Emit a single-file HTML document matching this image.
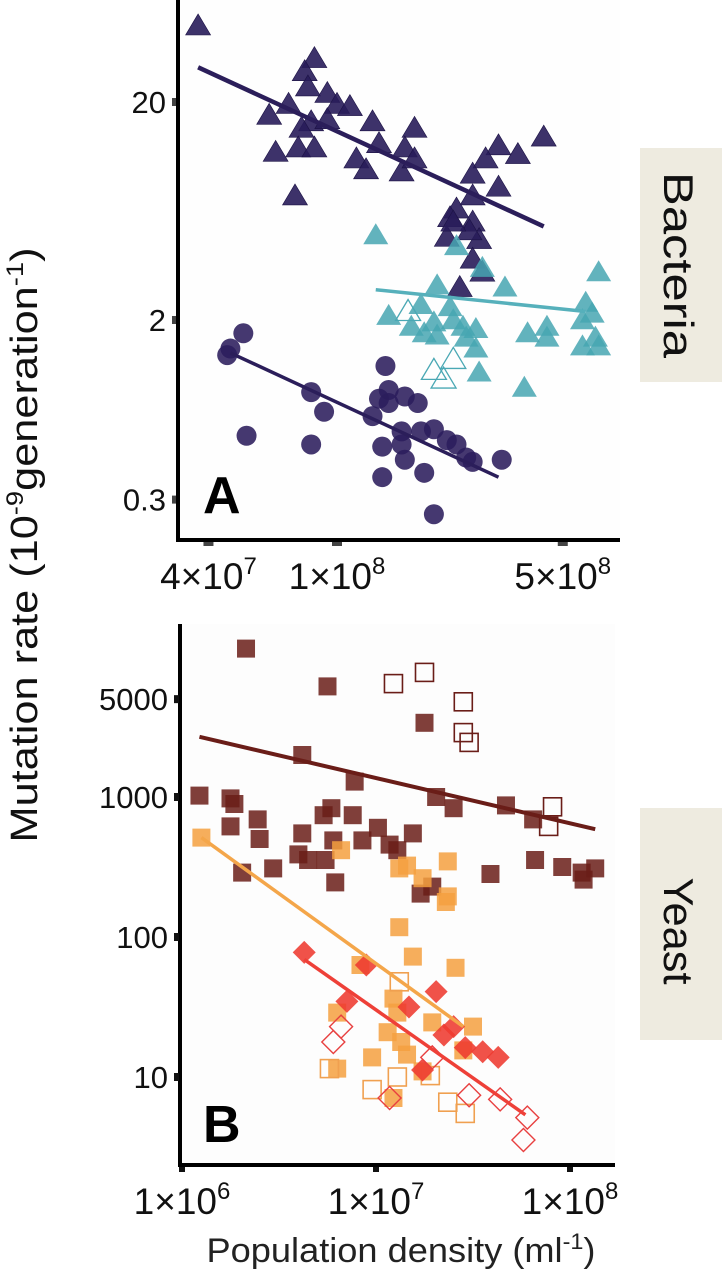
<!DOCTYPE html>
<html><head><meta charset="utf-8"><style>
html,body{margin:0;padding:0;background:#fff;}
svg{display:block;font-family:"Liberation Sans",sans-serif;}
</style></head><body>
<svg id="chart" width="722" height="1279" viewBox="0 0 722 1279" xmlns="http://www.w3.org/2000/svg">
<rect x="0" y="0" width="722" height="1279" fill="#fff"/>
<rect x="640" y="148" width="82" height="234" fill="#eeebe0"/>
<text transform="translate(664,265) rotate(90)" text-anchor="middle" font-size="42" textLength="186" lengthAdjust="spacingAndGlyphs" fill="#111">Bacteria</text>
<rect x="640" y="808" width="82" height="232" fill="#eeebe0"/>
<text transform="translate(664,931) rotate(90)" text-anchor="middle" font-size="42" textLength="107" lengthAdjust="spacingAndGlyphs" fill="#111">Yeast</text>
<text transform="translate(37,545) rotate(-90)" text-anchor="middle" font-size="38" textLength="595" lengthAdjust="spacingAndGlyphs" fill="#111">Mutation rate (10<tspan font-size="24" dy="-14">-9</tspan><tspan dy="14">generation</tspan><tspan font-size="24" dy="-14">-1</tspan><tspan dy="14">)</tspan></text>
<text x="401" y="1262" text-anchor="middle" font-size="34" textLength="389" lengthAdjust="spacingAndGlyphs" fill="#222">Population density (ml<tspan font-size="22" dy="-13">-1</tspan><tspan dy="13">)</tspan></text>
<g id="panelA"></g>
<g id="panelB"></g>
</svg>
<script>
// Panel A (bacteria) data: log10 density, log10 mutation rate
const aTriDarkX=[7.57,7.93,7.90,7.91,7.97,8.00,8.04,7.85,7.79,7.92,7.97,7.89,8.11,8.24,8.13,8.21,7.88,7.93,7.81,8.06,8.09,8.20,8.24,8.50,8.56,8.46,8.64,8.42,8.50,7.87,8.42,8.37,8.35,8.42,8.34,8.44,8.41,8.42,8.38,8.45,8.36];
const aTriDarkY=[1.65,1.50,1.44,1.37,1.34,1.29,1.28,1.29,1.24,1.21,1.22,1.18,1.21,1.18,1.11,1.09,1.09,1.09,1.07,1.04,0.99,0.98,1.04,1.10,1.06,1.04,1.14,0.97,0.91,0.87,0.87,0.81,0.77,0.75,0.68,0.67,0.71,0.58,0.45,0.52,0.75];
const aTriTealX=[8.12,8.37,8.31,8.52,8.81,8.45,8.16,8.26,8.35,8.23,8.30,8.27,8.31,8.36,8.39,8.43,8.40,8.43,8.44,8.58,8.59,8.65,8.65,8.77,8.79,8.76,8.80,8.76,8.81];
const aTriTealY=[0.69,0.64,0.46,0.45,0.52,0.54,0.32,0.37,0.36,0.27,0.29,0.24,0.23,0.30,0.27,0.26,0.22,0.17,0.06,-0.01,0.24,0.27,0.22,0.38,0.33,0.30,0.22,0.18,0.18];
const aTriTealOpenX=[8.22,8.30,8.36,8.33];
const aTriTealOpenY=[0.34,0.07,0.12,0.03];
const aCircX=[7.71,7.67,7.66,7.72,7.92,7.96,7.92,8.15,8.16,8.13,8.16,8.21,8.25,8.11,8.20,8.26,8.30,8.34,8.37,8.20,8.14,8.21,8.40,8.42,8.51,8.14,8.27,8.30];
const aCircY=[0.24,0.17,0.14,-0.23,-0.03,-0.12,-0.27,0.09,-0.02,-0.06,-0.08,-0.05,-0.08,-0.14,-0.21,-0.21,-0.20,-0.25,-0.27,-0.27,-0.28,-0.34,-0.33,-0.35,-0.34,-0.42,-0.40,-0.59];
const aFitDark=[7.57,1.46,8.64,0.73];
const aFitTeal=[8.12,0.44,8.77,0.34];
const aFitCirc=[7.67,0.15,8.50,-0.42];
const aXTicks=[4e7,1e8,5e8];
const aXTickLabels=[["4×10","7"],["1×10","8"],["5×10","8"]];
const aYTicks=[20,2,0.3];
const aYTickLabels=["20","2","0.3"];
// Panel B (yeast) data
const bSqBrownX=[6.33,6.75,7.25,6.62,6.89,7.31,7.40,7.67,7.81,6.09,6.25,6.27,6.39,6.25,6.40,6.62,6.77,6.73,6.88,7.01,7.19,6.78,6.93,7.07,7.11,6.60,6.65,6.74,6.31,6.47,6.79,7.59,7.82,7.96,8.06,8.13,8.07,7.29,7.23];
const bSqBrownY=[4.06,3.79,3.53,3.30,3.11,3.00,2.92,2.94,2.84,3.01,2.99,2.95,2.84,2.79,2.70,2.74,2.92,2.87,2.87,2.78,2.74,2.69,2.69,2.66,2.62,2.59,2.55,2.55,2.46,2.49,2.39,2.45,2.55,2.50,2.46,2.49,2.41,2.36,2.31];
const bSqBrownOpenX=[7.09,7.25,7.45,7.45,7.48,7.91,7.89];
const bSqBrownOpenY=[3.81,3.89,3.68,3.46,3.39,2.93,2.79];
const bSqOrangeX=[6.10,6.82,7.12,7.16,7.37,7.24,7.37,7.36,7.12,7.19,7.41,6.92,7.09,7.11,6.80,7.06,7.13,7.29,7.50,7.45,7.16,6.98,7.24,6.80,7.09];
const bSqOrangeY=[2.71,2.62,2.49,2.51,2.54,2.42,2.29,2.25,2.07,1.86,1.78,1.80,1.56,1.46,1.46,1.32,1.25,1.39,1.36,1.19,1.16,1.14,1.04,1.06,0.85];
const bSqOrangeOpenX=[7.12,6.76,7.11,6.98,7.37,7.46,7.28];
const bSqOrangeOpenY=[1.68,1.06,1.00,0.91,0.82,0.74,1.01];
const bDiaRedX=[6.63,6.95,6.85,7.17,7.31,7.40,7.35,7.55,7.63,7.24,7.46];
const bDiaRedY=[1.89,1.80,1.54,1.50,1.61,1.36,1.30,1.18,1.14,1.05,1.21];
const bDiaRedOpenX=[6.82,6.78,7.07,7.48,7.64,7.78,7.76,7.29];
const bDiaRedOpenY=[1.36,1.25,0.85,0.87,0.84,0.71,0.55,1.14];
const bFitBrown=[6.09,3.43,8.13,2.77];
const bFitOrange=[6.10,2.71,7.45,1.36];
const bFitRed=[6.63,1.84,7.77,0.73];
const bXTicks=[1e6,1e7,1e8];
const bXTickLabels=[["1×10","6"],["1×10","7"],["1×10","8"]];
const bYTicks=[5000,1000,100,10];
const bYTickLabels=["5000","1000","100","10"];

const NS="http://www.w3.org/2000/svg";
function mk(parent,tag,attrs){const e=document.createElementNS(NS,tag);for(const k in attrs)e.setAttribute(k,attrs[k]);parent.appendChild(e);return e;}
const xA=L=>337+(L-8)*323, yA=L=>320-(L-0.301)*218;
const xB=L=>182+(L-6)*194, yB=L=>1077-(L-1)*140;

function tri(g,x,y,fill,stroke,name){
  const s=12.5;
  const p=mk(g,'polygon',{points:`${x},${y-12} ${x-s},${y+9} ${x+s},${y+9}`,fill:fill,stroke:stroke,'stroke-width':fill==='none'?1.3:0.6});
  
  
}
function circ(g,x,y,name){
  const c=mk(g,'circle',{cx:x,cy:y,r:10,fill:'#2b1c5c','fill-opacity':0.88});
  
  
}
function sq(g,x,y,fill,stroke,op,name){
  const r=mk(g,'rect',{x:x-9,y:y-9,width:18,height:18,fill:fill,'fill-opacity':op,stroke:stroke,'stroke-width':fill==='none'?1.6:0});
  
  
}
function dia(g,x,y,fill,stroke,name){
  const d=11.5;
  const p=mk(g,'polygon',{points:`${x},${y-d} ${x+d},${y} ${x},${y+d} ${x-d},${y}`,fill:fill,'fill-opacity':0.88,stroke:stroke,'stroke-width':fill==='none'?1.4:0});
  
  
}
function fit(g,f,fx,fy,color,w,name){
  const l=mk(g,'line',{x1:fx(f[0]),y1:fy(f[1]),x2:fx(f[2]),y2:fy(f[3]),stroke:color,'stroke-width':w});
  
  
}

// ---- Panel A ----
const gA=document.getElementById('panelA');
mk(gA,'rect',{x:178,y:0,width:442,height:540,fill:'#fefefe'});
aTriDarkX.forEach((v,i)=>tri(gA,xA(v),yA(aTriDarkY[i]),'rgba(40,28,90,0.9)','#1c1245','point-bacteria-navy-triangle'));
aTriTealX.forEach((v,i)=>tri(gA,xA(v),yA(aTriTealY[i]),'rgba(70,166,178,0.85)','none','point-bacteria-teal-triangle'));
aTriTealOpenX.forEach((v,i)=>tri(gA,xA(v),yA(aTriTealOpenY[i]),'none','#4aa8b4','point-bacteria-teal-open-triangle'));
aCircX.forEach((v,i)=>circ(gA,xA(v),yA(aCircY[i]),'point-bacteria-circle'));
fit(gA,aFitDark,xA,yA,'#2b1e5a',4.5,'fit-line-bacteria-triangles');
fit(gA,aFitTeal,xA,yA,'#56b0bb',3.5,'fit-line-bacteria-teal');
fit(gA,aFitCirc,xA,yA,'#2b1e5a',3.5,'fit-line-bacteria-circles');
mk(gA,'line',{x1:178,y1:0,x2:178,y2:542,stroke:'#000','stroke-width':4});
mk(gA,'line',{x1:176,y1:540,x2:620,y2:540,stroke:'#000','stroke-width':4});
aXTicks.forEach((v,i)=>{
  const x=xA(Math.log10(v));
  mk(gA,'rect',{x:x-5,y:542,width:10,height:4,fill:'#444'});
  const t=mk(gA,'text',{x:x,y:589,'text-anchor':'middle','font-size':37,fill:'#111'});
  
  
  t.innerHTML=`${aXTickLabels[i][0]}<tspan font-size="24" dy="-15">${aXTickLabels[i][1]}</tspan>`;
});
aYTicks.forEach((v,i)=>{
  const y=yA(Math.log10(v));
  mk(gA,'rect',{x:172,y:y-4,width:4,height:8,fill:'#444'});
  const t=mk(gA,'text',{x:166,y:y+11,'text-anchor':'end','font-size':31,fill:'#111'});
  
  
  t.textContent=aYTickLabels[i];
});
const la=mk(gA,'text',{x:203,y:513,'font-size':52,'font-weight':'bold',fill:'#000'});


la.textContent='A';

// ---- Panel B ----
const gB=document.getElementById('panelB');
mk(gB,'rect',{x:180,y:624,width:435,height:541,fill:'#fdfdfd'});
bSqBrownX.forEach((v,i)=>sq(gB,xB(v),yB(bSqBrownY[i]),'#6a1d18','none',0.85,'point-yeast-brown-square'));
bSqBrownOpenX.forEach((v,i)=>sq(gB,xB(v),yB(bSqBrownOpenY[i]),'none','#6a1d18',1,'point-yeast-brown-open-square'));
bSqOrangeX.forEach((v,i)=>sq(gB,xB(v),yB(bSqOrangeY[i]),'#f4a040','none',0.85,'point-yeast-orange-square'));
bSqOrangeOpenX.forEach((v,i)=>sq(gB,xB(v),yB(bSqOrangeOpenY[i]),'none','#f0a050',1,'point-yeast-orange-open-square'));
bDiaRedX.forEach((v,i)=>dia(gB,xB(v),yB(bDiaRedY[i]),'#ee3a30','none','point-yeast-red-diamond'));
bDiaRedOpenX.forEach((v,i)=>dia(gB,xB(v),yB(bDiaRedOpenY[i]),'none','#e84040','point-yeast-red-open-diamond'));
fit(gB,bFitBrown,xB,yB,'#6a1d18',4,'fit-line-yeast-brown');
fit(gB,bFitOrange,xB,yB,'#f4a64a',3.5,'fit-line-yeast-orange');
fit(gB,bFitRed,xB,yB,'#ee4038',3.5,'fit-line-yeast-red');
mk(gB,'line',{x1:180,y1:624,x2:180,y2:1167,stroke:'#000','stroke-width':4});
mk(gB,'line',{x1:178,y1:1165,x2:615,y2:1165,stroke:'#000','stroke-width':4});
bXTicks.forEach((v,i)=>{
  const x=xB(Math.log10(v));
  mk(gB,'rect',{x:x-3,y:1167,width:6,height:5,fill:'#111'});
  const t=mk(gB,'text',{x:x,y:1214,'text-anchor':'middle','font-size':37,fill:'#111'});
  
  
  t.innerHTML=`${bXTickLabels[i][0]}<tspan font-size="24" dy="-15">${bXTickLabels[i][1]}</tspan>`;
});
bYTicks.forEach((v,i)=>{
  const y=yB(Math.log10(v));
  mk(gB,'rect',{x:174,y:y-4,width:5,height:8,fill:'#111'});
  const t=mk(gB,'text',{x:168,y:y+11,'text-anchor':'end','font-size':31,fill:'#111'});
  
  
  t.textContent=bYTickLabels[i];
});
const lb=mk(gB,'text',{x:203,y:1142,'font-size':52,'font-weight':'bold',fill:'#000'});


lb.textContent='B';
</script>
</body></html>
